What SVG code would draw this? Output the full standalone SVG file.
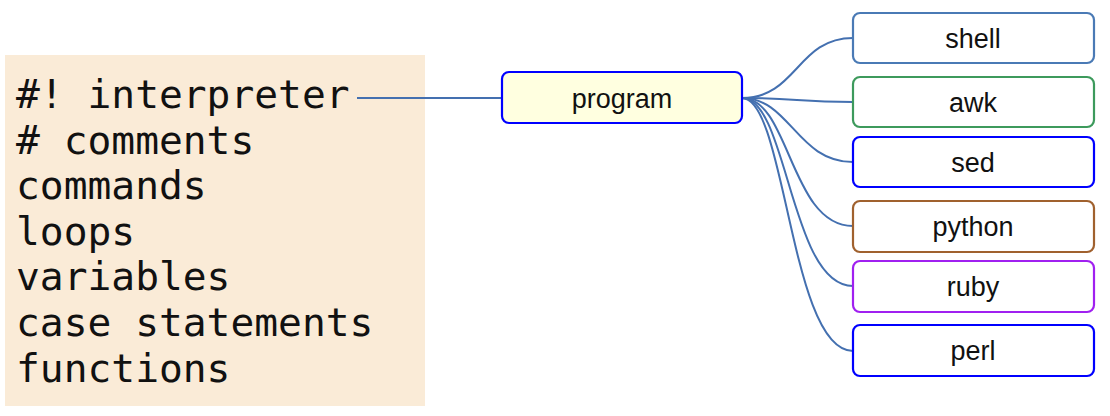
<svg xmlns="http://www.w3.org/2000/svg" width="1110" height="416" viewBox="0 0 1110 416">
<style>
.code{font-family:"DejaVu Sans Mono","Liberation Mono",monospace;font-size:39.6px;fill:#111}
.lbl{font-family:"Liberation Sans",Arial,sans-serif;font-size:27px;fill:#111;text-anchor:middle}
.box{fill:#fff;stroke-width:2.2}
.conn{fill:none;stroke:#4470b0;stroke-width:2}
</style>
<rect width="1110" height="416" fill="#fff"/>
<g id="code">
<rect x="5" y="55" width="420" height="351" fill="#faebd7"/>
<text class="code" x="16" y="108">#! interpreter</text>
<text class="code" x="16" y="154"># comments</text>
<text class="code" x="16" y="199">commands</text>
<text class="code" x="16" y="245">loops</text>
<text class="code" x="16" y="290">variables</text>
<text class="code" x="16" y="336">case statements</text>
<text class="code" x="16" y="382">functions</text>
</g>
<g id="connectors">
<path class="conn" d="M357,98 H502"/>
<path class="conn" d="M742,98 C797,98 797,38 853,38"/>
<path class="conn" d="M742,98 C797,98 797,102 853,102"/>
<path class="conn" d="M742,98 C790,98 797,162 853,162"/>
<path class="conn" d="M742,98 C790,98 790,226 853,226"/>
<path class="conn" d="M742,98 C788,98 790,286 853,286"/>
<path class="conn" d="M742,98 C786,98 790,351 853,351"/>
</g>
<g id="program">
<rect x="502" y="72" width="240" height="51" rx="7" fill="#ffffe0" stroke="#0000ff" stroke-width="2.2"/>
<text class="lbl" x="622" y="108">program</text>
</g>
<g id="shell">
<rect class="box" x="853" y="13" width="241" height="50" rx="7" stroke="#4a7ab5"/>
<text class="lbl" x="973" y="48">shell</text>
</g>
<g id="awk">
<rect class="box" x="853" y="77" width="241" height="50" rx="7" stroke="#3d9a5c"/>
<text class="lbl" x="973" y="112">awk</text>
</g>
<g id="sed">
<rect class="box" x="853" y="137" width="241" height="50" rx="7" stroke="#0000ff"/>
<text class="lbl" x="973" y="172">sed</text>
</g>
<g id="python">
<rect class="box" x="853" y="201" width="241" height="51" rx="7" stroke="#a0612e"/>
<text class="lbl" x="973" y="236">python</text>
</g>
<g id="ruby">
<rect class="box" x="853" y="261" width="241" height="51" rx="7" stroke="#a020f0"/>
<text class="lbl" x="973" y="296">ruby</text>
</g>
<g id="perl">
<rect class="box" x="853" y="325" width="241" height="51" rx="7" stroke="#0000ff"/>
<text class="lbl" x="973" y="360">perl</text>
</g>
</svg>
